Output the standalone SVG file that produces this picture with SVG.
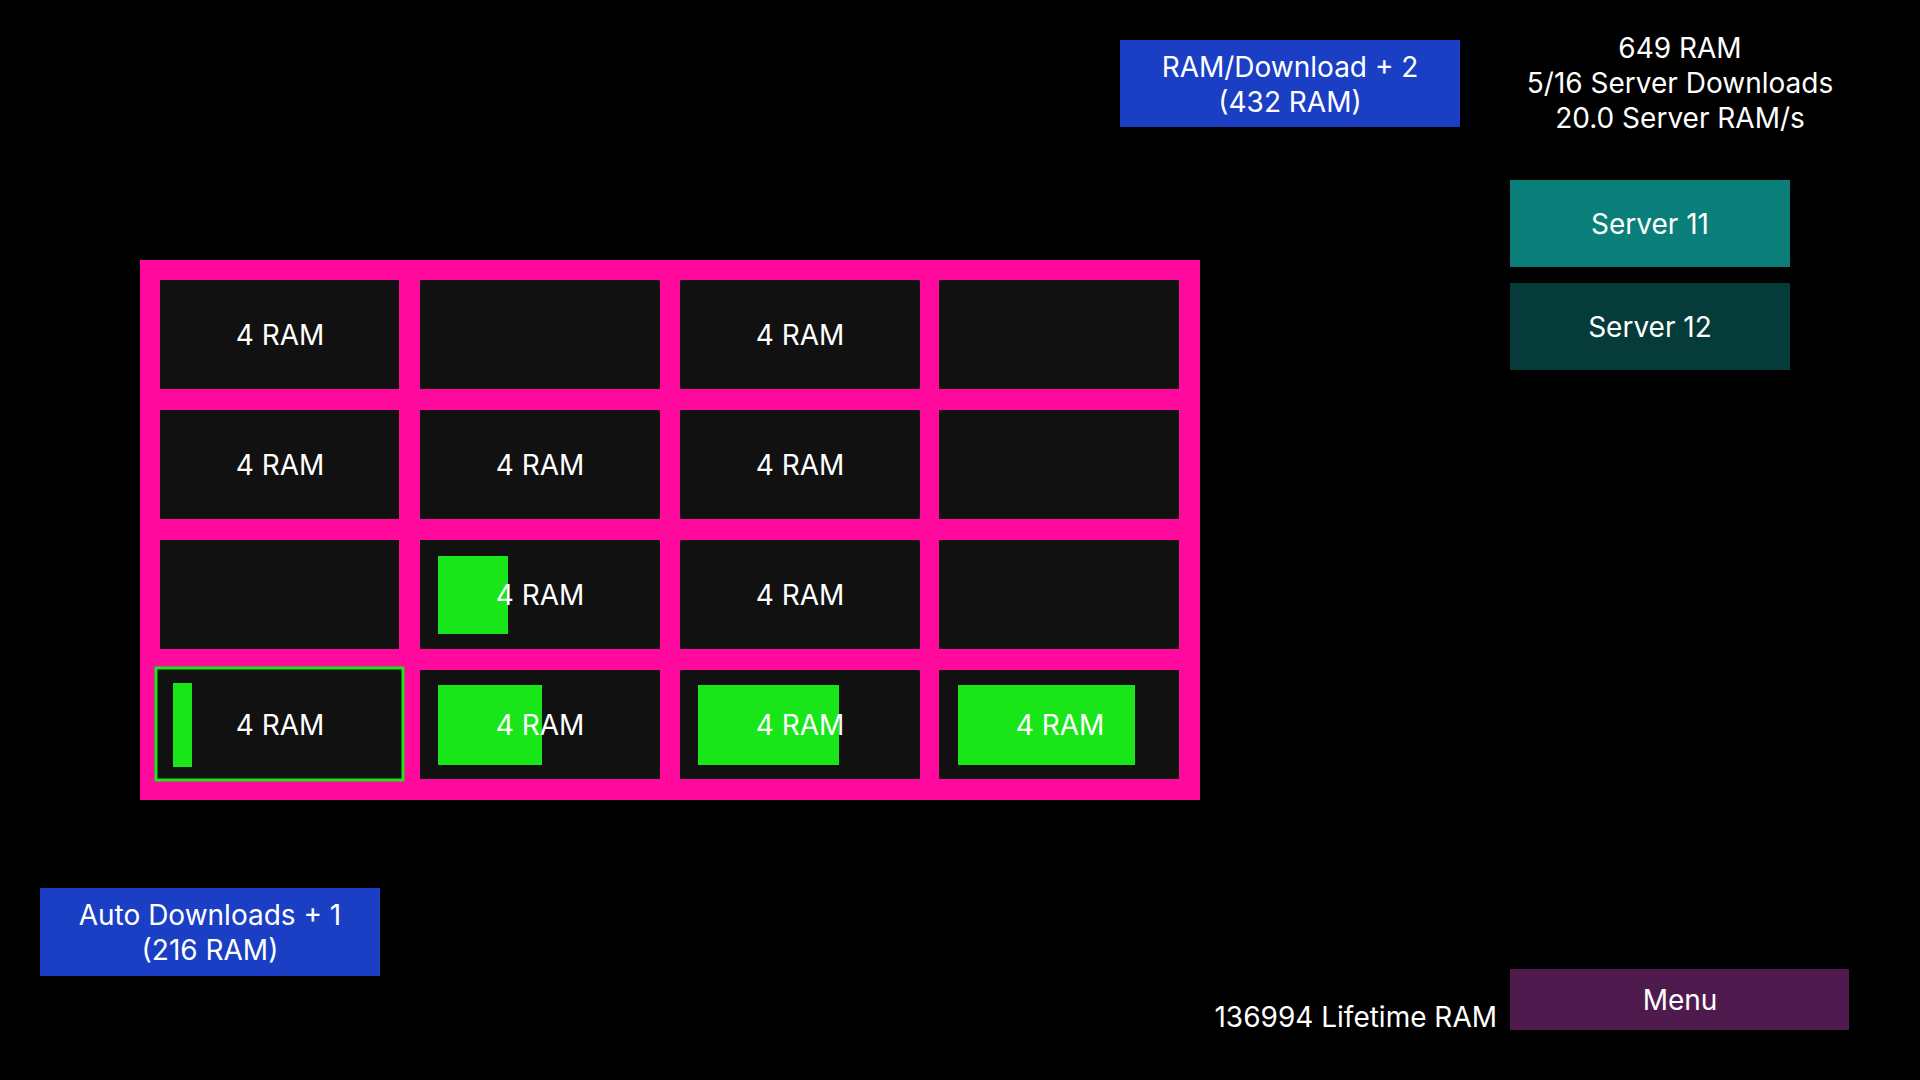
<svg xmlns="http://www.w3.org/2000/svg" width="1920" height="1080" viewBox="0 0 1920 1080">
<style>
text{font-family:Inter,"Noto Sans",sans-serif;font-size:28px;fill:#fff;text-anchor:middle;dominant-baseline:central}
.c{fill:#111}
.g{fill:#19e619}
.b{fill:#1a3fc4}
</style>
<rect width="1920" height="1080" fill="#000"/>
<g id="grid">
<rect x="140" y="260" width="1060" height="540" fill="#ff0a9c"/>
<rect class="c" x="160" y="280" width="239" height="109"/><text x="280" y="335">4 RAM</text>
<rect class="c" x="420" y="280" width="240" height="109"/>
<rect class="c" x="680" y="280" width="240" height="109"/><text x="800" y="335">4 RAM</text>
<rect class="c" x="939" y="280" width="240" height="109"/>
<rect class="c" x="160" y="410" width="239" height="109"/><text x="280" y="465">4 RAM</text>
<rect class="c" x="420" y="410" width="240" height="109"/><text x="540" y="465">4 RAM</text>
<rect class="c" x="680" y="410" width="240" height="109"/><text x="800" y="465">4 RAM</text>
<rect class="c" x="939" y="410" width="240" height="109"/>
<rect class="c" x="160" y="540" width="239" height="109"/>
<rect class="c" x="420" y="540" width="240" height="109"/><rect class="g" x="438" y="556" width="70" height="78"/><text x="540" y="595">4 RAM</text>
<rect class="c" x="680" y="540" width="240" height="109"/><text x="800" y="595">4 RAM</text>
<rect class="c" x="939" y="540" width="240" height="109"/>
<rect class="c" x="156" y="668" width="247" height="112" stroke="#19e619" stroke-width="3"/><rect class="g" x="173" y="683" width="19" height="84"/><text x="280" y="725">4 RAM</text>
<rect class="c" x="420" y="670" width="240" height="109"/><rect class="g" x="438" y="685" width="104" height="80"/><text x="540" y="725">4 RAM</text>
<rect class="c" x="680" y="670" width="240" height="109"/><rect class="g" x="698" y="685" width="141" height="80"/><text x="800" y="725">4 RAM</text>
<rect class="c" x="939" y="670" width="240" height="109"/><rect class="g" x="958" y="685" width="177" height="80"/><text x="1060" y="725">4 RAM</text>
</g>
<g id="ramdl"><rect class="b" x="1120" y="40" width="340" height="87"/><text x="1290" y="67">RAM/Download + 2</text><text x="1290" y="102">(432 RAM)</text></g>
<g id="stats"><text x="1680" y="48">649 RAM</text><text x="1680" y="83">5/16 Server Downloads</text><text x="1680" y="118">20.0 Server RAM/s</text></g>
<g id="s11"><rect x="1510" y="180" width="280" height="87" fill="#0a7f7a"/><text x="1650" y="224">Server 11</text></g>
<g id="s12"><rect x="1510" y="283" width="280" height="87" fill="#053b38"/><text x="1650" y="327">Server 12</text></g>
<g id="auto"><rect class="b" x="40" y="888" width="340" height="88"/><text x="210" y="915">Auto Downloads + 1</text><text x="210" y="950">(216 RAM)</text></g>
<g id="life"><text x="1497" y="1017" style="text-anchor:end">136994 Lifetime RAM</text></g>
<g id="menu"><rect x="1510" y="969" width="339" height="61" fill="#4f1a4e"/><text x="1680" y="1000">Menu</text></g>
<g id="connectors"/>
</svg>
